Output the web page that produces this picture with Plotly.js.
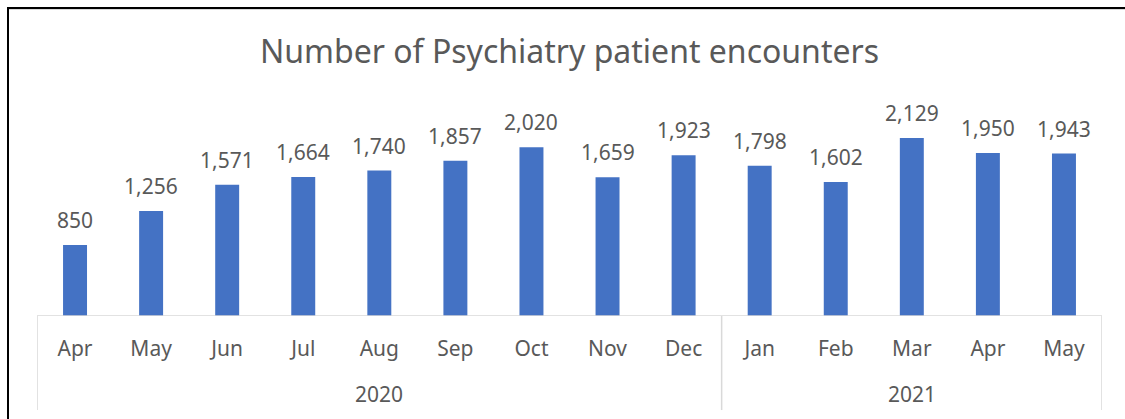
<!DOCTYPE html>
<html>
<head>
<meta charset="utf-8">
<script src="https://cdn.plot.ly/plotly-3.0.1.min.js"></script>
<style>
  html, body { margin: 0; padding: 0; background: #fff; overflow: hidden; }
  #wrap { position: relative; width: 1125px; height: 419px; overflow: hidden; }
  #chart { position: absolute; left: 0; top: 0; width: 1125px; height: 419px; }
  #frameL { position: absolute; left: 7px; top: 7px; width: 2px; height: 412px; background: #000; pointer-events: none; }
  #frameT { position: absolute; left: 7px; top: 7px; width: 1118px; height: 2px; background: #000; pointer-events: none; }
  #inner { position: absolute; left: 9px; top: 9px; width: 1116px; height: 1px; background: #d9d9d9; pointer-events: none; }
</style>
</head>
<body>
<div id="wrap">
  <div id="chart"></div>
  <div id="inner"></div>
  <div id="frameL"></div>
  <div id="frameT"></div>
</div>
<script>
const months = ["Apr","May","Jun","Jul","Aug","Sep","Oct","Nov","Dec","Jan","Feb","Mar","Apr","May"];
const years = ["2020","2021"];
const yearCounts = [9, 5];
const encounters = [850, 1256, 1571, 1664, 1740, 1857, 2020, 1659, 1923, 1798, 1602, 2129, 1950, 1943];

const FONT = "'Noto Sans', 'Open Sans', sans-serif";
const GRAY_TXT = "#595959";
const LINE = "#d9d9d9";

const xs = months.map((m, i) => i);

const trace = {
  type: "bar",
  x: xs,
  y: encounters,
  marker: { color: "#4472C4" },
  hoverinfo: "skip",
  width: 0.315
};

const annotations = encounters.map((v, i) => ({
  x: i, y: v, xref: "x", yref: "y",
  text: v.toLocaleString("en-US"),
  showarrow: false, yanchor: "bottom", yshift: 9,
  font: { family: FONT, size: 21, color: GRAY_TXT }
}));

// group boundaries and year labels
const bounds = [-0.5];
let acc = -0.5;
yearCounts.forEach(c => { acc += c; bounds.push(acc); });
years.forEach((yr, k) => {
  const start = bounds[k] + 0.5, end = bounds[k + 1] - 0.5;
  annotations.push({
    x: (start + end) / 2, y: -0.373, xref: "x", yref: "paper",
    text: yr, showarrow: false, yanchor: "middle",
    font: { family: FONT, size: 21, color: GRAY_TXT }
  });
});

const shapes = bounds.map(b => ({
  type: "line", xref: "x", yref: "paper",
  x0: b, x1: b, y0: 0, y1: -0.45,
  line: { color: LINE, width: 1.5 }
}));
shapes.push({
  type: "line", xref: "x", yref: "y",
  x0: bounds[0], x1: bounds[bounds.length - 1], y0: 0, y1: 0,
  line: { color: LINE, width: 1.5 }
});

const layout = {
  width: 1125, height: 419,
  margin: { l: 37, r: 23, t: 107, b: 103 },
  paper_bgcolor: "#ffffff",
  plot_bgcolor: "#ffffff",
  showlegend: false,
  title: {
    text: "Number of Psychiatry patient encounters",
    font: { family: FONT, size: 32, color: GRAY_TXT },
    x: 0.5, xref: "paper", y: 1 - 52 / 419, yanchor: "middle"
  },
  xaxis: {
    range: [-0.5, 13.5],
    tickvals: xs, ticktext: months,
    ticks: "", showgrid: false, zeroline: false, showline: false,
    ticklabelstandoff: 18,
    tickfont: { family: FONT, size: 21, color: GRAY_TXT },
    fixedrange: true
  },
  yaxis: {
    range: [0, 2500],
    showticklabels: false, showgrid: false, zeroline: false, showline: false,
    ticks: "", fixedrange: true
  },
  shapes: shapes,
  annotations: annotations
};

Plotly.newPlot("chart", [trace], layout, { displayModeBar: false, staticPlot: true });
</script>
</body>
</html>
